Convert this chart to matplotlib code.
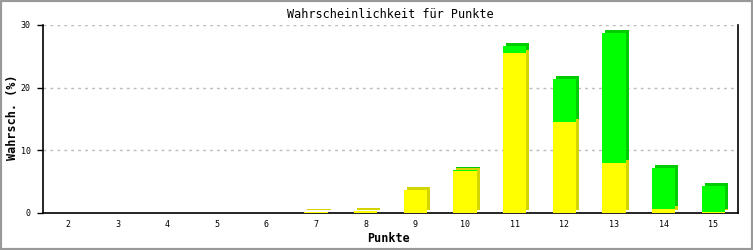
import matplotlib
matplotlib.use('Agg')
import matplotlib.pyplot as plt
from matplotlib import transforms
from matplotlib.patches import Rectangle

# data
punkte = ['2', '3', '4', '5', '6', '7', '8', '9', '10', '11', '12', '13', '14', '15']
gelb = [0, 0, 0, 0, 0, 0.15, 0.25, 3.7, 6.75, 25.5, 14.5, 8.0, 0.65, 0.2]
gruen = [0, 0, 0, 0, 0, 0, 0, 0, 0.15, 1.1, 6.9, 20.8, 6.5, 4.1]

yellow, yellow_side = '#ffff00', '#d4d400'
green, green_side = '#00ff00', '#00cc00'
mono = 'DejaVu Sans Mono'


# -------------------------------------------------------------------------------
# Function - draw one stacked segment with a small pseudo-3d shadow
# -------------------------------------------------------------------------------
def bar3d(ax, fig, x, bottom, height, face, side, width=0.47, depth=3):
    if height <= 0:
        return
    shift = ax.transData + transforms.ScaledTranslation(depth / fig.dpi, depth / fig.dpi, fig.dpi_scale_trans)
    ax.add_patch(Rectangle((x - width / 2, bottom), width, height, facecolor=side,
                           edgecolor='none', transform=shift, zorder=3))
    ax.add_patch(Rectangle((x - width / 2, bottom), width, height, facecolor=face,
                           edgecolor='none', zorder=4))


def main():
    fig = plt.figure(figsize=(7.53, 2.5), dpi=100)
    fig.patch.set_facecolor('white')
    fig.add_artist(Rectangle((0, 0), 1, 1, transform=fig.transFigure, fill=False,
                             edgecolor='#999999', linewidth=3))

    ax = fig.add_axes([43 / 753, 1 - 213 / 250, 695 / 753, 188 / 250])
    xs = list(range(len(punkte)))
    for x, g, gr in zip(xs, gelb, gruen):
        bar3d(ax, fig, x, 0, gr + g, green, green_side)
        bar3d(ax, fig, x, 0, g, yellow, yellow_side)

    ax.set_xlim(-0.5, len(punkte) - 0.5)
    ax.set_ylim(0, 30)
    ax.set_yticks([0, 10, 20, 30])
    ax.set_xticks(xs)
    ax.set_xticklabels(punkte)
    ax.tick_params(axis='x', length=0, pad=5, labelsize=6)
    ax.tick_params(axis='y', length=4, width=1, pad=5, labelsize=6)
    for lab in ax.get_xticklabels() + ax.get_yticklabels():
        lab.set_family(mono)

    ax.yaxis.grid(True, color='#bbbbbb', linestyle=(0, (2, 3)), linewidth=1)
    ax.set_axisbelow(True)
    ax.spines['top'].set_visible(False)
    for s in ['left', 'right', 'bottom']:
        ax.spines[s].set_linewidth(1.2)

    fig.text(390 / 753, 1 - 14 / 250, 'Wahrscheinlichkeit für Punkte', family=mono,
             fontsize=8.5, ha='center', va='center')
    fig.text(389 / 753, 1 - 239 / 250, 'Punkte', family=mono, fontsize=8.5,
             fontweight='bold', ha='center', va='center')
    fig.text(13 / 753, 1 - 117 / 250, 'Wahrsch. (%)', family=mono, fontsize=8.5,
             fontweight='bold', ha='center', va='center', rotation=90)

    fig.savefig('out.png', dpi=100)


if __name__ == '__main__':
    main()
